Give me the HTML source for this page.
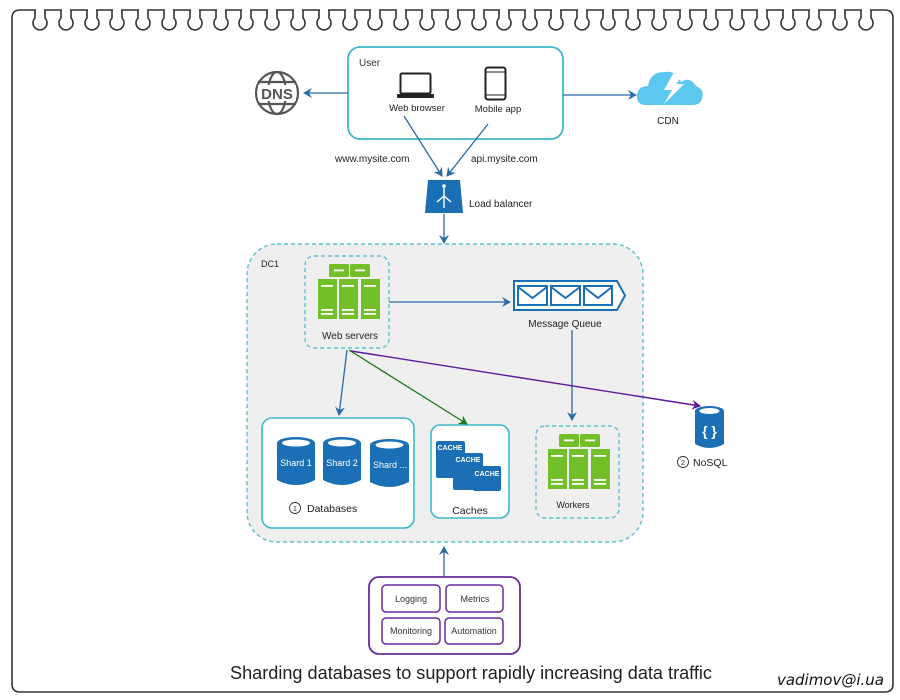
<!DOCTYPE html>
<html><head><meta charset="utf-8"><style>
html,body{margin:0;padding:0;background:#fff;}
svg{display:block;font-family:"Liberation Sans",Arial,sans-serif;}
</style></head><body>
<svg width="900" height="700" viewBox="0 0 900 700" xmlns="http://www.w3.org/2000/svg">
<defs>
<marker id="ab" markerWidth="10" markerHeight="10" refX="8" refY="5" orient="auto" markerUnits="userSpaceOnUse"><path d="M0,0 L9,5 L0,10 L3,5 Z" fill="#2a6aa8"/></marker>
<marker id="ag" markerWidth="10" markerHeight="10" refX="8" refY="5" orient="auto" markerUnits="userSpaceOnUse"><path d="M0,0 L9,5 L0,10 L3,5 Z" fill="#1a7a1a"/></marker>
<marker id="ap" markerWidth="10" markerHeight="10" refX="8" refY="5" orient="auto" markerUnits="userSpaceOnUse"><path d="M0,0 L9,5 L0,10 L3,5 Z" fill="#5a1a9a"/></marker>
<g id="lp">
<line x1="-4" y1="10" x2="4" y2="10" stroke="#fff" stroke-width="3"/>
<path d="M-5,10 v8 a7 7 0 1 0 10 0 v-8" fill="none" stroke="#333" stroke-width="1.6"/>
</g>
<g id="srv">
<rect x="11" y="0" width="20" height="13" rx="1.5" fill="#72bf2a"/><rect x="32" y="0" width="20" height="13" rx="1.5" fill="#72bf2a"/>
<rect x="16" y="5.5" width="10" height="1.8" fill="#fff"/><rect x="37" y="5.5" width="10" height="1.8" fill="#fff"/>
<rect x="0" y="15" width="19" height="40" fill="#72bf2a"/><rect x="21" y="15" width="19" height="40" fill="#72bf2a"/><rect x="43" y="15" width="19" height="40" fill="#72bf2a"/>
<g fill="#fff"><rect x="3" y="21" width="12" height="1.8"/><rect x="24" y="21" width="12" height="1.8"/><rect x="46" y="21" width="12" height="1.8"/>
<rect x="3" y="45" width="12" height="1.8"/><rect x="24" y="45" width="12" height="1.8"/><rect x="46" y="45" width="12" height="1.8"/>
<rect x="3" y="49" width="12" height="1.8"/><rect x="24" y="49" width="12" height="1.8"/><rect x="46" y="49" width="12" height="1.8"/></g>
</g>
</defs>

<!-- frame -->
<path d="M12,40 V18 Q12,10 20,10 H885 Q893,10 893,18 V684 Q893,692 885,692 H20 Q12,692 12,684 Z" fill="none" stroke="#333" stroke-width="1.6"/>
<use href="#lp" x="40"/><use href="#lp" x="66"/><use href="#lp" x="92"/><use href="#lp" x="117"/><use href="#lp" x="143"/><use href="#lp" x="169"/><use href="#lp" x="195"/><use href="#lp" x="221"/><use href="#lp" x="246"/><use href="#lp" x="272"/><use href="#lp" x="298"/>
<use href="#lp" x="324"/><use href="#lp" x="350"/><use href="#lp" x="375"/><use href="#lp" x="401"/><use href="#lp" x="427"/><use href="#lp" x="453"/><use href="#lp" x="479"/><use href="#lp" x="504"/><use href="#lp" x="530"/><use href="#lp" x="556"/><use href="#lp" x="582"/>
<use href="#lp" x="608"/><use href="#lp" x="633"/><use href="#lp" x="659"/><use href="#lp" x="685"/><use href="#lp" x="711"/><use href="#lp" x="737"/><use href="#lp" x="762"/><use href="#lp" x="788"/><use href="#lp" x="814"/><use href="#lp" x="840"/><use href="#lp" x="866"/>

<!-- User box -->
<rect x="348" y="47" width="215" height="92" rx="12" fill="#fff" stroke="#3bb8cc" stroke-width="1.8"/>
<text x="359" y="66" font-size="10" fill="#333">User</text>
<rect x="400.5" y="73.5" width="30" height="20" rx="1.5" fill="none" stroke="#222" stroke-width="2"/>
<rect x="397" y="94" width="37" height="4" rx="1" fill="#222"/>
<rect x="485.5" y="67.5" width="20" height="32" rx="2.5" fill="none" stroke="#222" stroke-width="2"/>
<line x1="486" y1="72" x2="505" y2="72" stroke="#222"/><line x1="486" y1="95" x2="505" y2="95" stroke="#222"/>
<text x="417" y="111" font-size="9.5" text-anchor="middle" fill="#222">Web browser</text>
<text x="498" y="112" font-size="9.5" text-anchor="middle" fill="#222">Mobile app</text>

<!-- DNS -->
<g stroke="#555" fill="none" stroke-width="2.2">
<circle cx="277" cy="93" r="21"/>
<ellipse cx="277" cy="93" rx="9" ry="21"/>
<line x1="258" y1="82" x2="296" y2="82"/><line x1="258" y1="104" x2="296" y2="104"/>
</g>
<rect x="258" y="85" width="38" height="16" fill="#fff"/>
<text x="277" y="99" font-size="15" font-weight="bold" text-anchor="middle" fill="#555">DNS</text>
<line x1="348" y1="93" x2="304" y2="93" stroke="#2a6aa8" stroke-width="1.3" marker-end="url(#ab)"/>

<!-- CDN -->
<path d="M646,105 Q636,105 637,95 Q638,86 648,86 Q650,72 664,72 Q676,70 681,82 Q690,76 696,86 Q705,90 702,98 Q701,105 692,105 Z" fill="#5cc8f0"/>
<path d="M674,72 L664,90 L672,90 L664,104 L684,84 L676,84 L686,72 Z" fill="#fff"/>
<line x1="563" y1="95" x2="636" y2="95" stroke="#2a6aa8" stroke-width="1.3" marker-end="url(#ab)"/>
<text x="668" y="124" font-size="10" text-anchor="middle" fill="#222">CDN</text>

<!-- user -> LB -->
<line x1="404" y1="116" x2="442" y2="176" stroke="#2a6aa8" stroke-width="1.3" marker-end="url(#ab)"/>
<line x1="488" y1="124" x2="447" y2="176" stroke="#2a6aa8" stroke-width="1.3" marker-end="url(#ab)"/>
<text x="335" y="162" font-size="10" fill="#222">www.mysite.com</text>
<text x="471" y="162" font-size="10" fill="#222">api.mysite.com</text>

<!-- LB -->
<path d="M428,180 H460 L463,213 H425 Z" fill="#1a6fb5"/>
<g stroke="#fff" stroke-width="1.4" fill="none"><line x1="444" y1="186" x2="444" y2="208"/><path d="M444,196 L437,202 M444,196 L451,202"/></g>
<circle cx="444" cy="186" r="1.8" fill="#fff"/>
<text x="469" y="207" font-size="10" fill="#222">Load balancer</text>
<line x1="444" y1="214" x2="444" y2="243" stroke="#2a6aa8" stroke-width="1.3" marker-end="url(#ab)"/>

<!-- DC1 -->
<rect x="247" y="244" width="396" height="298" rx="30" fill="#efefef" stroke="#5bc0d0" stroke-width="1.4" stroke-dasharray="4,3"/>
<text x="261" y="267" font-size="9" fill="#222">DC1</text>

<!-- web servers -->
<rect x="305" y="256" width="84" height="92" rx="9" fill="none" stroke="#5bc0d0" stroke-width="1.4" stroke-dasharray="4,3"/>
<use href="#srv" x="318" y="264"/>
<text x="350" y="339" font-size="10" text-anchor="middle" fill="#222">Web servers</text>

<!-- MQ -->
<path d="M514,281 H617 L625,295.5 L617,310 H514 Z" fill="#fff" stroke="#1a6fb5" stroke-width="2"/>
<g fill="none" stroke="#1a6fb5" stroke-width="2">
<rect x="518" y="286" width="29" height="19"/><path d="M518,287 L532.5,298 L547,287"/>
<rect x="551" y="286" width="29" height="19"/><path d="M551,287 L565.5,298 L580,287"/>
<rect x="584" y="286" width="28" height="19"/><path d="M584,287 L598,298 L612,287"/>
</g>
<text x="565" y="327" font-size="10" text-anchor="middle" fill="#222">Message Queue</text>
<line x1="389" y1="302" x2="510" y2="302" stroke="#2a6aa8" stroke-width="1.3" marker-end="url(#ab)"/>
<line x1="572" y1="330" x2="572" y2="420" stroke="#2a6aa8" stroke-width="1.3" marker-end="url(#ab)"/>

<!-- Databases -->
<rect x="262" y="418" width="152" height="110" rx="10" fill="#fff" stroke="#3bb8cc" stroke-width="1.6"/>
<g>
<path d="M277,443 V480 Q296,490 315,480 V443 Z" fill="#1a6fb5"/><ellipse cx="296" cy="443" rx="19" ry="6" fill="#1a6fb5"/><ellipse cx="296" cy="443" rx="14" ry="3.5" fill="#fff"/>
<path d="M323,443 V480 Q342,490 361,480 V443 Z" fill="#1a6fb5"/><ellipse cx="342" cy="443" rx="19" ry="6" fill="#1a6fb5"/><ellipse cx="342" cy="443" rx="14" ry="3.5" fill="#fff"/>
<path d="M370,445 V482 Q389,492 409,482 V445 Z" fill="#1a6fb5"/><ellipse cx="389.5" cy="445" rx="19.5" ry="6" fill="#1a6fb5"/><ellipse cx="389.5" cy="445" rx="14" ry="3.5" fill="#fff"/>
</g>
<text x="296" y="466" font-size="9" text-anchor="middle" fill="#fff">Shard 1</text>
<text x="342" y="466" font-size="9" text-anchor="middle" fill="#fff">Shard 2</text>
<text x="390" y="468" font-size="9" text-anchor="middle" fill="#fff">Shard ...</text>
<circle cx="295" cy="508" r="5.5" fill="none" stroke="#333" stroke-width="0.9"/>
<text x="295" y="511" font-size="7.5" text-anchor="middle" fill="#333">1</text>
<text x="307" y="512" font-size="10.5" fill="#222">Databases</text>

<!-- Caches -->
<rect x="431" y="425" width="78" height="93" rx="9" fill="#fff" stroke="#3bb8cc" stroke-width="1.6"/>
<rect x="436" y="441" width="29" height="37" rx="2" fill="#1a6fb5"/>
<rect x="453" y="453" width="30" height="37" rx="2" fill="#1a6fb5"/>
<rect x="473" y="466" width="28" height="25" rx="2" fill="#1a6fb5"/>
<g font-size="7" font-weight="bold" fill="#fff" text-anchor="middle">
<text x="450" y="450">CACHE</text><text x="468" y="462">CACHE</text><text x="487" y="476">CACHE</text></g>
<text x="470" y="514" font-size="10.5" text-anchor="middle" fill="#222">Caches</text>

<!-- Workers -->
<rect x="536" y="426" width="83" height="92" rx="9" fill="none" stroke="#5bc0d0" stroke-width="1.4" stroke-dasharray="4,3"/>
<use href="#srv" x="548" y="434"/>
<text x="573" y="508" font-size="9" text-anchor="middle" fill="#222">Workers</text>

<!-- connectors from web servers -->
<line x1="347" y1="350" x2="339" y2="415" stroke="#2a6aa8" stroke-width="1.3" marker-end="url(#ab)"/>
<line x1="349" y1="350" x2="467" y2="424" stroke="#1a7a1a" stroke-width="1.3" marker-end="url(#ag)"/>
<line x1="351" y1="351" x2="700" y2="406" stroke="#5a1a9a" stroke-width="1.4" marker-end="url(#ap)"/>

<!-- NoSQL -->
<path d="M695,411 V444 Q709.5,452 724,444 V411 Z" fill="#1a6fb5"/>
<ellipse cx="709.5" cy="411" rx="14.5" ry="5" fill="#1a6fb5"/><ellipse cx="709.5" cy="411" rx="10" ry="3" fill="#fff"/>
<text x="709.5" y="436" font-size="14" font-weight="bold" text-anchor="middle" fill="#fff">{ }</text>
<circle cx="683" cy="462" r="5.5" fill="none" stroke="#333" stroke-width="0.9"/>
<text x="683" y="465" font-size="7.5" text-anchor="middle" fill="#333">2</text>
<text x="693" y="466" font-size="10.5" fill="#222">NoSQL</text>

<!-- tools -->
<line x1="444" y1="576" x2="444" y2="547" stroke="#2a6aa8" stroke-width="1.3" marker-end="url(#ab)"/>
<rect x="369" y="577" width="151" height="77" rx="10" fill="#fff" stroke="#6a2a9a" stroke-width="1.8"/>
<g fill="#fff" stroke="#6a2a9a" stroke-width="1.5">
<rect x="382" y="585" width="58" height="27" rx="4"/><rect x="446" y="585" width="57" height="27" rx="4"/>
<rect x="382" y="618" width="58" height="26" rx="4"/><rect x="445" y="618" width="58" height="26" rx="4"/></g>
<g font-size="9" fill="#333" text-anchor="middle">
<text x="411" y="602">Logging</text><text x="475" y="602">Metrics</text>
<text x="411" y="634">Monitoring</text><text x="474" y="634">Automation</text></g>

<text x="471" y="679" font-size="18" text-anchor="middle" fill="#222" textLength="482" lengthAdjust="spacingAndGlyphs">Sharding databases to support rapidly increasing data traffic</text>
<text x="884" y="685" font-size="15" font-style="italic" text-anchor="end" fill="#111" font-family="'DejaVu Sans','Liberation Sans',sans-serif">vadimov@i.ua</text>
</svg>
</body></html>
